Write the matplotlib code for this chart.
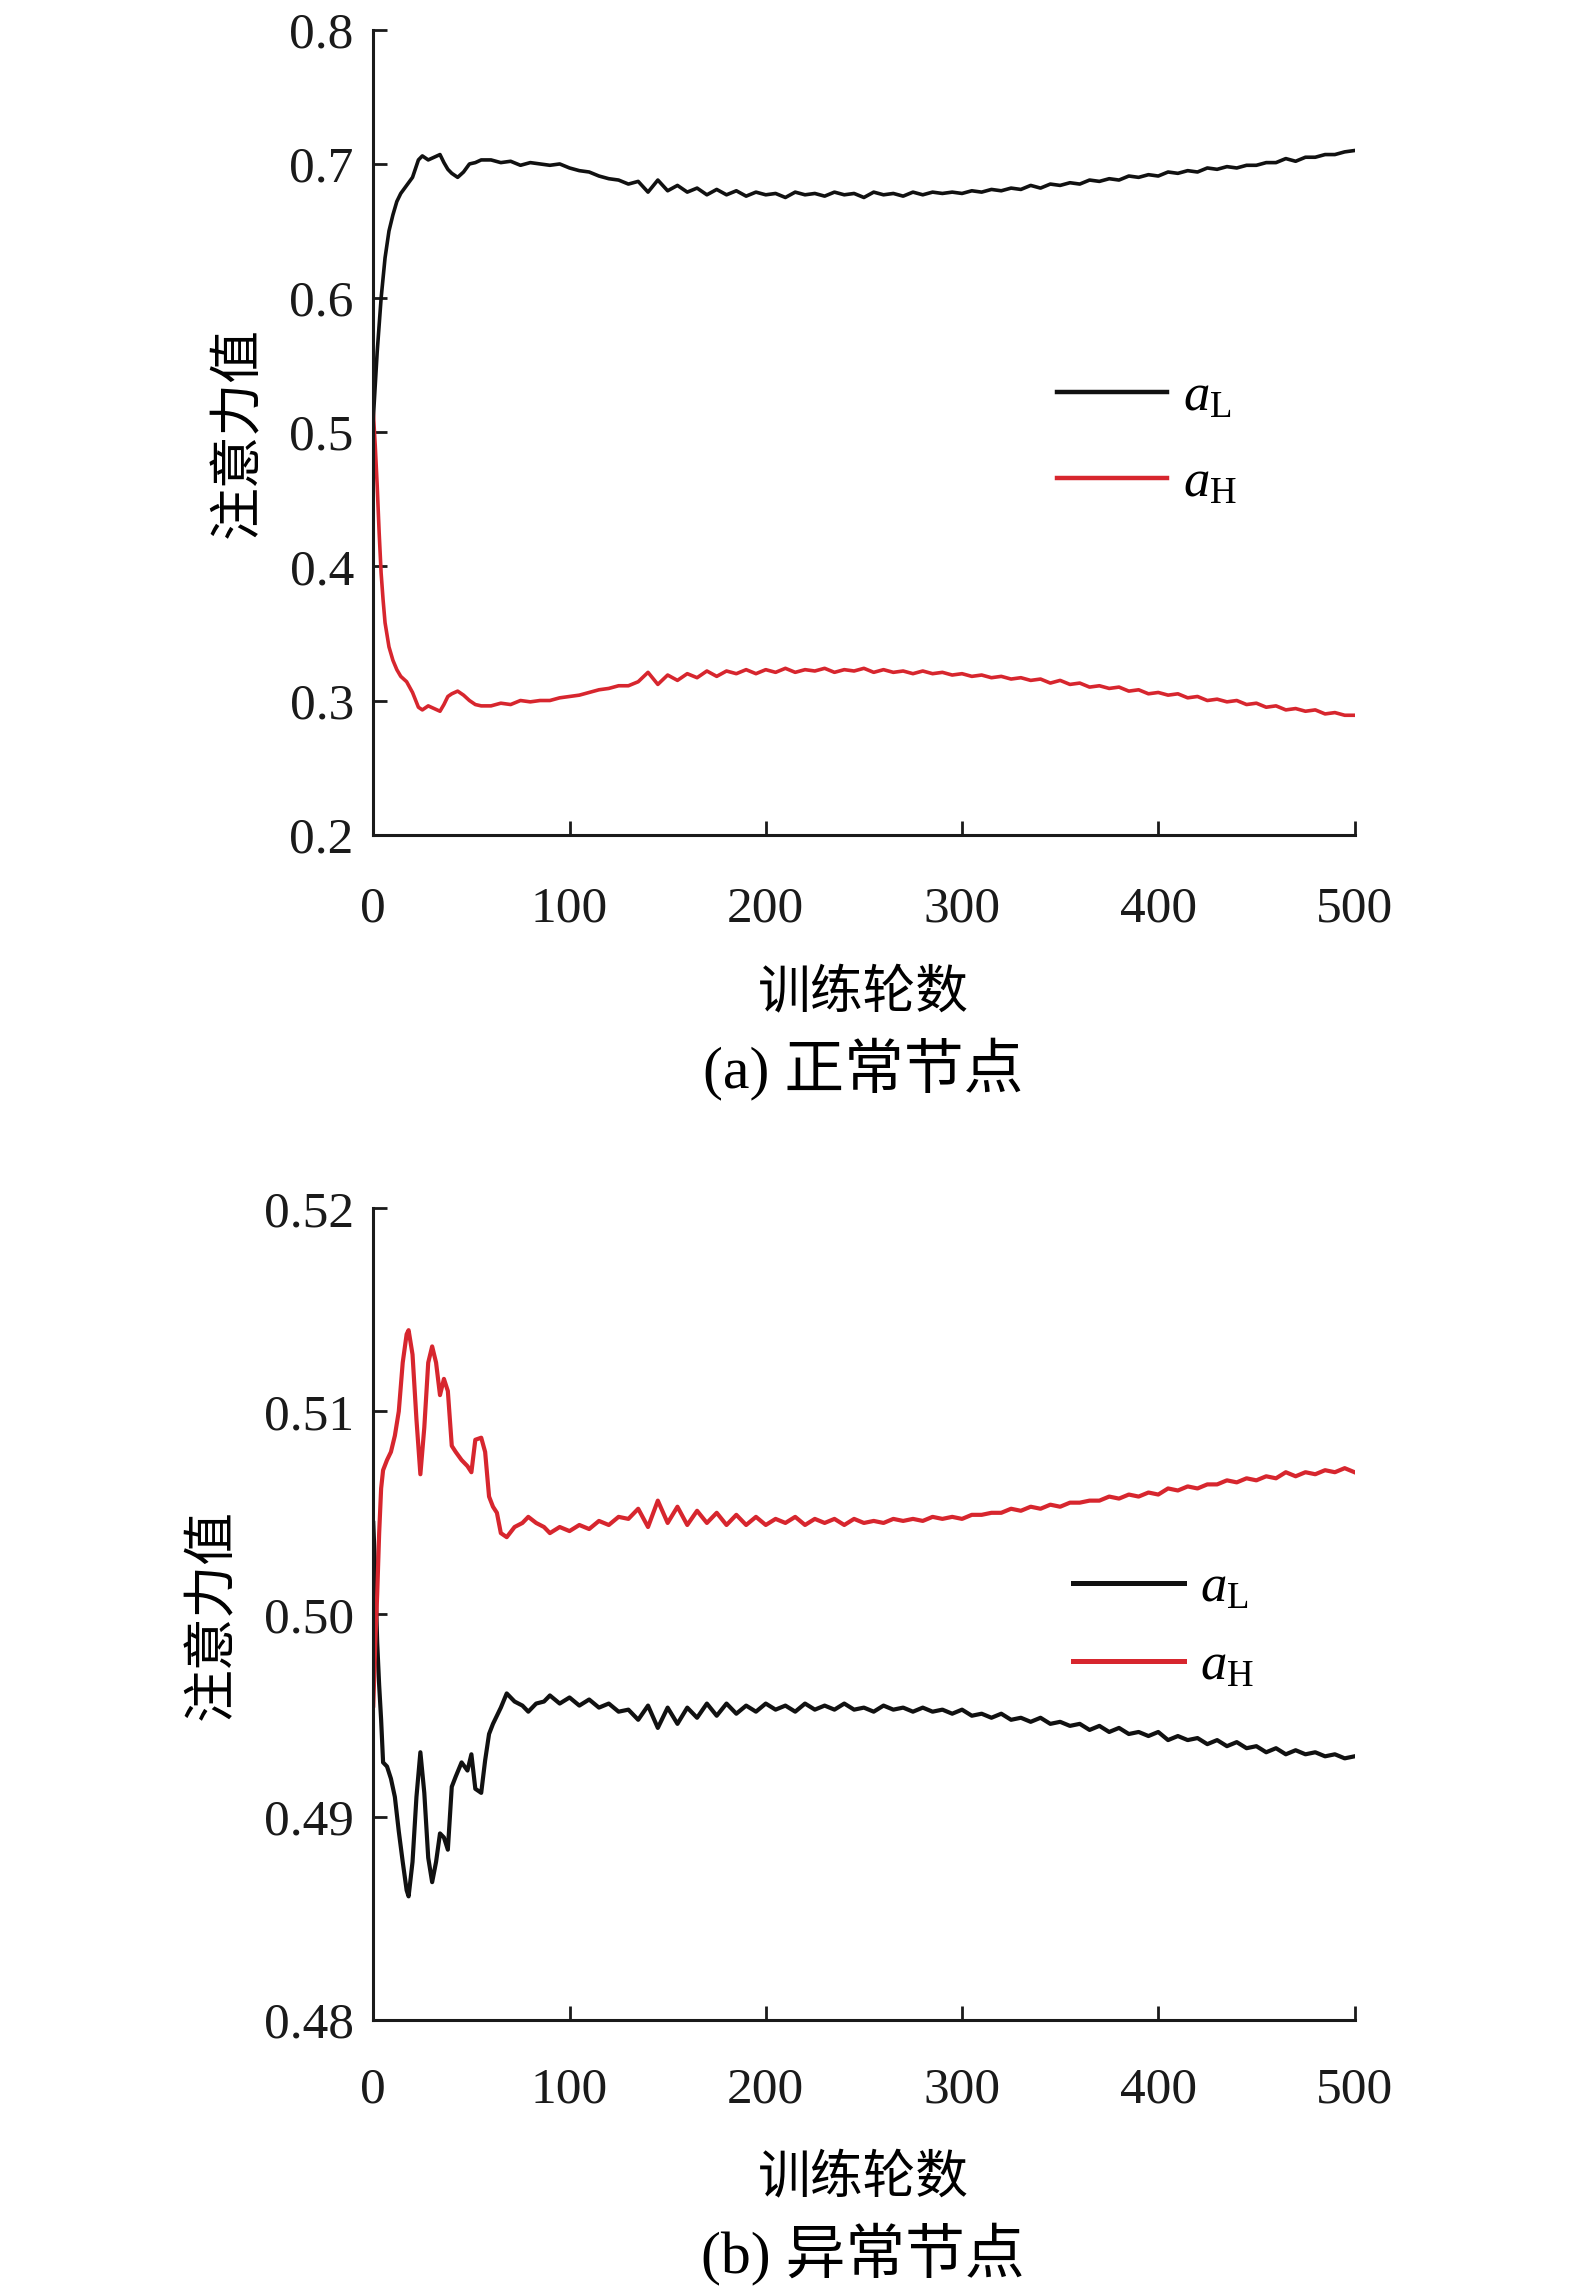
import matplotlib
matplotlib.use("Agg")
import matplotlib.pyplot as plt
import numpy as np

plt.rcParams['font.family'] = ['Liberation Serif', 'Noto Sans CJK SC']
plt.rcParams['mathtext.fontset'] = 'custom'
plt.rcParams['mathtext.rm'] = 'Liberation Serif'
plt.rcParams['mathtext.it'] = 'Liberation Serif:italic'

RED = '#d7262e'

# ---- (a) normal nodes: values ----
epochs_a = [0, 1, 2, 3, 4, 5, 6, 8, 10, 12, 14, 17, 20, 23, 25, 28, 31, 34, 36, 38, 40, 43, 46, 49, 52, 55,
            60, 65, 70, 75, 80, 85, 90, 95, 100, 105, 110, 115, 120, 125, 130, 135, 140, 145, 150, 155,
            160, 165, 170, 175, 180, 185, 190, 195, 200, 205, 210, 215, 220, 225, 230, 235, 240, 245,
            250, 255, 260, 265, 270, 275, 280, 285, 290, 295, 300, 305, 310, 315, 320, 325, 330, 335,
            340, 345, 350, 355, 360, 365, 370, 375, 380, 385, 390, 395, 400, 405, 410, 415, 420, 425,
            430, 435, 440, 445, 450, 455, 460, 465, 470, 475, 480, 485, 490, 495, 500]

aL_normal = [0.510, 0.535, 0.560, 0.580, 0.600, 0.615, 0.630, 0.650, 0.662, 0.672, 0.678, 0.684, 0.690,
             0.703, 0.706, 0.703, 0.705, 0.707, 0.701, 0.696, 0.693, 0.690, 0.694, 0.700, 0.701, 0.703,
             0.703, 0.701, 0.702, 0.699, 0.701, 0.700, 0.699, 0.700, 0.697, 0.695, 0.694, 0.691, 0.689,
             0.688, 0.685, 0.687, 0.679, 0.688, 0.680, 0.684, 0.679, 0.682, 0.677, 0.681, 0.677, 0.680,
             0.676, 0.679, 0.677, 0.678, 0.675, 0.679, 0.677, 0.678, 0.676, 0.679, 0.677, 0.678, 0.675,
             0.679, 0.677, 0.678, 0.676, 0.679, 0.677, 0.679, 0.678, 0.679, 0.678, 0.680, 0.679, 0.681,
             0.680, 0.682, 0.681, 0.684, 0.682, 0.685, 0.684, 0.686, 0.685, 0.688, 0.687, 0.689, 0.688,
             0.691, 0.690, 0.692, 0.691, 0.694, 0.693, 0.695, 0.694, 0.697, 0.696, 0.698, 0.697, 0.699,
             0.699, 0.701, 0.701, 0.704, 0.702, 0.705, 0.705, 0.707, 0.707, 0.709, 0.710]

aH_normal = [0.515, 0.490, 0.460, 0.425, 0.395, 0.375, 0.358, 0.340, 0.330, 0.323, 0.318, 0.314, 0.306,
             0.295, 0.293, 0.296, 0.294, 0.292, 0.297, 0.303, 0.305, 0.307, 0.304, 0.300, 0.297, 0.296,
             0.296, 0.298, 0.297, 0.300, 0.299, 0.300, 0.300, 0.302, 0.303, 0.304, 0.306, 0.308, 0.309,
             0.311, 0.311, 0.314, 0.321, 0.312, 0.319, 0.315, 0.320, 0.317, 0.322, 0.318, 0.322, 0.320,
             0.323, 0.320, 0.323, 0.321, 0.324, 0.321, 0.323, 0.322, 0.324, 0.321, 0.323, 0.322, 0.324,
             0.321, 0.323, 0.321, 0.322, 0.320, 0.322, 0.320, 0.321, 0.319, 0.320, 0.318, 0.319, 0.317,
             0.318, 0.316, 0.317, 0.315, 0.316, 0.313, 0.315, 0.312, 0.313, 0.310, 0.311, 0.309, 0.310,
             0.307, 0.308, 0.305, 0.306, 0.304, 0.305, 0.302, 0.303, 0.300, 0.301, 0.299, 0.300, 0.297,
             0.298, 0.295, 0.296, 0.293, 0.294, 0.292, 0.293, 0.290, 0.291, 0.289, 0.289]

# ---- (b) abnormal nodes ----
epochs_b = [0, 1, 2, 3, 4, 5, 7, 9, 11, 13, 15, 17, 18, 20, 22, 24, 26, 28, 30, 32, 34, 36, 38, 40, 42,
            45, 48, 50, 52, 55, 57, 59, 61, 63, 65, 68, 72, 76, 79, 83, 87,
            90, 95, 100, 105, 110, 115, 120, 125, 130, 135, 140, 145, 150, 155, 160, 165, 170, 175,
            180, 185, 190, 195, 200, 205, 210, 215, 220, 225, 230, 235, 240, 245, 250, 255, 260, 265,
            270, 275, 280, 285, 290, 295, 300, 305, 310, 315, 320, 325, 330, 335, 340, 345, 350, 355,
            360, 365, 370, 375, 380, 385, 390, 395, 400, 405, 410, 415, 420, 425, 430, 435, 440, 445,
            450, 455, 460, 465, 470, 475, 480, 485, 490, 495, 500]

aL_abnormal = [0.5045, 0.5020, 0.4986, 0.4965, 0.4948, 0.4927, 0.4925, 0.4919, 0.4910, 0.4893, 0.4878,
               0.4864, 0.4861, 0.4878, 0.4910, 0.4932, 0.4912, 0.4880, 0.4868, 0.4878, 0.4892, 0.4890,
               0.4884, 0.4915, 0.4920, 0.4927, 0.4923, 0.4931, 0.4914, 0.4912, 0.4928, 0.4941, 0.4946,
               0.4950, 0.4954, 0.4961, 0.4957, 0.4955, 0.4952, 0.4956, 0.4957,
               0.4960, 0.4956, 0.4959, 0.4955, 0.4958, 0.4954, 0.4956, 0.4952, 0.4953, 0.4948, 0.4955,
               0.4944, 0.4954, 0.4946, 0.4954, 0.4949, 0.4956, 0.4950, 0.4956, 0.4951, 0.4955, 0.4952,
               0.4956, 0.4953, 0.4955, 0.4952, 0.4956, 0.4953, 0.4955, 0.4953, 0.4956, 0.4953, 0.4954,
               0.4952, 0.4955, 0.4953, 0.4954, 0.4952, 0.4954, 0.4952, 0.4953, 0.4951, 0.4953, 0.4950,
               0.4951, 0.4949, 0.4951, 0.4948, 0.4949, 0.4947, 0.4949, 0.4946, 0.4947, 0.4945, 0.4946,
               0.4943, 0.4945, 0.4942, 0.4944, 0.4941, 0.4942, 0.4940, 0.4942, 0.4938, 0.4940, 0.4938,
               0.4939, 0.4936, 0.4938, 0.4935, 0.4937, 0.4934, 0.4935, 0.4932, 0.4934, 0.4931, 0.4933,
               0.4931, 0.4932, 0.4930, 0.4931, 0.4929, 0.4930]

aH_abnormal = [0.4955, 0.4985, 0.5010, 0.5040, 0.5062, 0.5071, 0.5076, 0.5080, 0.5088, 0.5100, 0.5124,
               0.5138, 0.5140, 0.5128, 0.5096, 0.5069, 0.5092, 0.5124, 0.5132, 0.5124, 0.5108, 0.5116,
               0.5110, 0.5083, 0.5080, 0.5076, 0.5073, 0.5070, 0.5086, 0.5087, 0.5080, 0.5058, 0.5053,
               0.5050, 0.5040, 0.5038, 0.5043, 0.5045, 0.5048, 0.5045, 0.5043,
               0.5040, 0.5043, 0.5041, 0.5044, 0.5042, 0.5046, 0.5044, 0.5048, 0.5047, 0.5052, 0.5043,
               0.5056, 0.5045, 0.5053, 0.5044, 0.5051, 0.5045, 0.5050, 0.5044, 0.5049, 0.5044, 0.5048,
               0.5044, 0.5047, 0.5045, 0.5048, 0.5044, 0.5047, 0.5045, 0.5047, 0.5044, 0.5047, 0.5045,
               0.5046, 0.5045, 0.5047, 0.5046, 0.5047, 0.5046, 0.5048, 0.5047, 0.5048, 0.5047, 0.5049,
               0.5049, 0.5050, 0.5050, 0.5052, 0.5051, 0.5053, 0.5052, 0.5054, 0.5053, 0.5055, 0.5055,
               0.5056, 0.5056, 0.5058, 0.5057, 0.5059, 0.5058, 0.5060, 0.5059, 0.5062, 0.5061, 0.5063,
               0.5062, 0.5064, 0.5064, 0.5066, 0.5065, 0.5067, 0.5066, 0.5068, 0.5067, 0.5070, 0.5068,
               0.5070, 0.5069, 0.5071, 0.5070, 0.5072, 0.5070]

xticks = [0, 100, 200, 300, 400, 500]
yticks_a = [0.2, 0.3, 0.4, 0.5, 0.6, 0.7, 0.8]
yticks_b = [0.48, 0.49, 0.50, 0.51, 0.52]

fig = plt.figure(figsize=(15.75, 22.93), dpi=100)
ax1 = fig.add_axes([0.237, 0.636, 0.623, 0.351])
ax2 = fig.add_axes([0.237, 0.119, 0.623, 0.354])


def style(ax, yticks, ylim, yfmt, xpad):
    ax.set_xlim(0, 500)
    ax.set_ylim(*ylim)
    ax.set_xticks(xticks)
    ax.set_yticks(yticks)
    ax.set_yticklabels([yfmt.format(v) for v in yticks])
    for s in ['top', 'right']:
        ax.spines[s].set_visible(False)
    for s in ['left', 'bottom']:
        ax.spines[s].set_linewidth(2.2)
        ax.spines[s].set_color('#1a1a1a')
    ax.tick_params(axis='both', direction='in', length=10, width=2, labelsize=37, colors='#1a1a1a')
    ax.tick_params(axis='x', pad=xpad)
    ax.tick_params(axis='y', pad=14)
    ax.set_ylabel('注意力值', fontsize=38, labelpad=18)
    ax.set_xlabel('训练轮数', fontsize=38, labelpad=27 + 37 - xpad)


# (a)
ax1.plot(epochs_a, aL_normal, color='#111111', lw=2.6, label=r'$a_{\mathrm{L}}$')
ax1.plot(epochs_a, aH_normal, color=RED, lw=2.6, label=r'$a_{\mathrm{H}}$')
style(ax1, yticks_a, (0.2, 0.8), '{:.1f}', 37)
leg1 = ax1.legend(loc='upper left', bbox_to_anchor=(0.648, 0.632), frameon=False, fontsize=38,
                  handlelength=2.1, handletextpad=0.3, labelspacing=0.72)
for h in leg1.get_lines():
    h.set_linewidth(3.2)

# (b)
ax2.plot(epochs_b, aL_abnormal, color='#111111', lw=3, label=r'$a_{\mathrm{L}}$')
ax2.plot(epochs_b, aH_abnormal, color=RED, lw=3, label=r'$a_{\mathrm{H}}$')
style(ax2, yticks_b, (0.48, 0.52), '{:.2f}', 34)
leg2 = ax2.legend(loc='upper left', bbox_to_anchor=(0.665, 0.62), frameon=False, fontsize=38,
                  handlelength=2.1, handletextpad=0.3, labelspacing=0.57)
for h in leg2.get_lines():
    h.set_linewidth(3.6)

fig.text(0.548, 1 - 1069 / 2293, '(a) 正常节点', ha='center', va='center', fontsize=43)
fig.text(0.548, 1 - 2254 / 2293, '(b) 异常节点', ha='center', va='center', fontsize=43)

fig.savefig('out.png', dpi=100, facecolor='white')
